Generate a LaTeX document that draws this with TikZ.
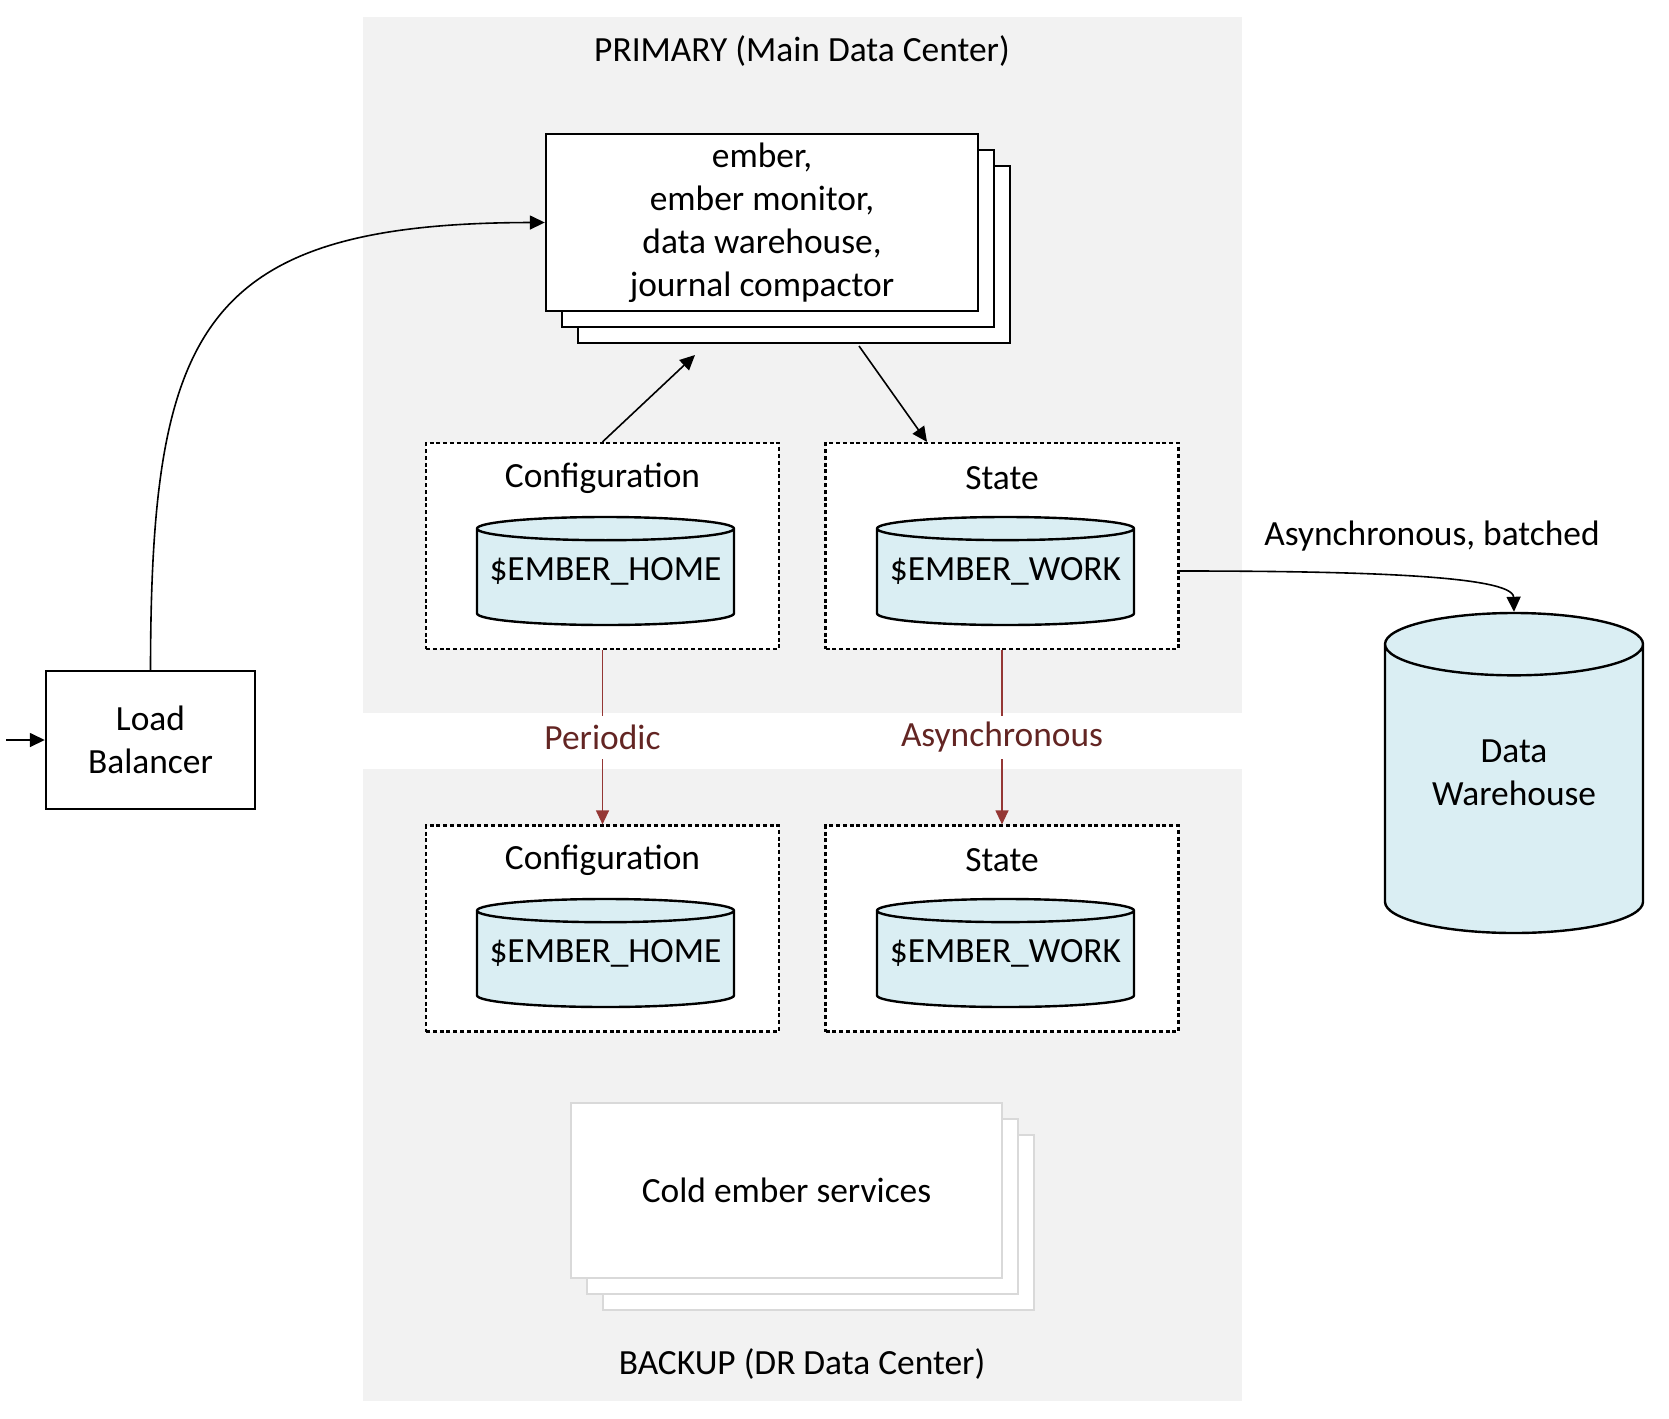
\documentclass[tikz,border=0pt]{standalone}
\usepackage{fontspec}
\setmainfont{Carlito}
\usetikzlibrary{arrows.meta,shapes.geometric,shadows}
\definecolor{zonegray}{HTML}{F2F2F2}
\definecolor{dbblue}{HTML}{DAEEF3}
\definecolor{syncred}{HTML}{953735}
\definecolor{synctext}{HTML}{632523}
\definecolor{coldgray}{HTML}{D9D9D9}
\tikzset{
  zone/.style={fill=zonegray, anchor=north west, inner sep=0, minimum width=439.5pt},
  svcbox/.style={draw, line width=1.2pt, fill=white, align=center, inner sep=0,
    minimum width=216pt, minimum height=88.5pt,
    double copy shadow={shadow xshift=8pt, shadow yshift=-8pt, fill=white, draw=black, line width=1.2pt}},
  coldbox/.style={draw=coldgray, line width=1pt, fill=white, inner sep=0,
    minimum width=215.5pt, minimum height=87.5pt,
    double copy shadow={shadow xshift=8pt, shadow yshift=-8pt, fill=white, draw=coldgray, line width=1pt}},
  storebox/.style={draw, fill=white, line width=1.1pt, dash pattern=on 2pt off 1.4pt,
    minimum width=176.5pt, minimum height=103pt, inner sep=0},
  dbcyl/.style={cylinder, shape border rotate=90, draw, line width=1.2pt, fill=dbblue,
    inner sep=0, align=center, anchor=shape center},
  dbsmall/.style={dbcyl, minimum width=128.5pt, minimum height=54pt, aspect=0.1},
  dbtext/.style={align=center, inner sep=0},
  lbbox/.style={draw, line width=1.2pt, fill=white, align=center, inner sep=0,
    minimum width=104.5pt, minimum height=69pt},
  flow/.style={-{Triangle[length=7.5pt,width=7pt]}, line width=0.8pt},
  sync/.style={line width=0.6pt, draw=syncred},
  synctip/.style={sync, -{Triangle[length=7pt,width=6.5pt]}},
  synclbl/.style={text=synctext, inner sep=0, minimum height=21.5pt}
}
\begin{document}
\begin{tikzpicture}[x=0.5pt, y=-0.5pt, font=\fontsize{17.7}{21.5}\selectfont]
  \useasboundingbox (0,0) rectangle (1669,1418);
  \node[zone, minimum height=348pt] (primary) at (363,17) {};
  \node[zone, minimum height=316pt] (backup) at (363,769) {};
  \node (primarytitle) at (802,51) {PRIMARY (Main Data Center)};
  \node (backuptitle) at (802,1364) {BACKUP (DR Data Center)};

  \node[lbbox] (lb) at (150.5,740) {Load\\Balancer};
  \node[svcbox] (svc) at (762,222.5) {ember,\\ember monitor,\\data warehouse,\\journal compactor};

  \node[storebox] (cfgA) at (602.5,546) {};
  \node[storebox] (stateA) at (1002,546) {};
  \node[storebox] (cfgB) at (602.5,928.5) {};
  \node[storebox] (stateB) at (1002,928.5) {};
  \node (cfgAlbl) at (602.5,478) {Configuration};
  \node (stateAlbl) at (1002,478) {State};
  \node (cfgBlbl) at (602.5,860) {Configuration};
  \node (stateBlbl) at (1002,860) {State};
  \node[dbsmall] (homeA) at (605.5,571) {\phantom{\$EMBER\_HOME}};
  \node[dbsmall] (workA) at (1005.5,571) {\phantom{\$EMBER\_WORK}};
  \node[dbsmall] (homeB) at (605.5,953) {\phantom{\$EMBER\_HOME}};
  \node[dbsmall] (workB) at (1005.5,953) {\phantom{\$EMBER\_WORK}};
  \node[dbtext] (homeAtxt) at (homeA.shape center) {\$EMBER\_HOME};
  \node[dbtext] (workAtxt) at (workA.shape center) {\$EMBER\_WORK};
  \node[dbtext] (homeBtxt) at (homeB.shape center) {\$EMBER\_HOME};
  \node[dbtext] (workBtxt) at (workB.shape center) {\$EMBER\_WORK};

  \node[dbcyl, minimum width=129pt, minimum height=160pt, aspect=0.38] (dw) at (1514,773) {\phantom{Data}\\\phantom{Warehouse}};
  \node[dbtext] (dwtxt) at (dw.shape center) {Data\\Warehouse};
  \node (batchlbl) at (1432,536) {Asynchronous, batched};

  \node[coldbox] (cold) at (786.5,1190.5) {Cold ember services};

  \node[synclbl] (periodic) at (602.5,737.5) {Periodic};
  \node[synclbl] (async) at (1002,737.5) {Asynchronous};

  \coordinate (entry) at (6,740);
  \coordinate (svcin) at (695,355);
  \coordinate (svcout) at (859,346);
  \draw[flow] (entry) -- (lb.west);
  \draw[flow] (lb.north) .. controls (151,330) and (200,223) .. (svc.west);
  \draw[flow] (cfgA.north) -- (svcin);
  \draw[flow] (svcout) -- ([xshift=-37.5pt]stateA.north);
  \draw[flow] ([yshift=-12.5pt]stateA.east) .. controls (1350,571) and (1513,575) .. (dw.north);
  \draw[sync] (cfgA.south) -- (periodic.north);
  \draw[synctip] (periodic.south) -- (cfgB.north);
  \draw[sync] (stateA.south) -- (async.north);
  \draw[synctip] (async.south) -- (stateB.north);
\end{tikzpicture}
\end{document}
